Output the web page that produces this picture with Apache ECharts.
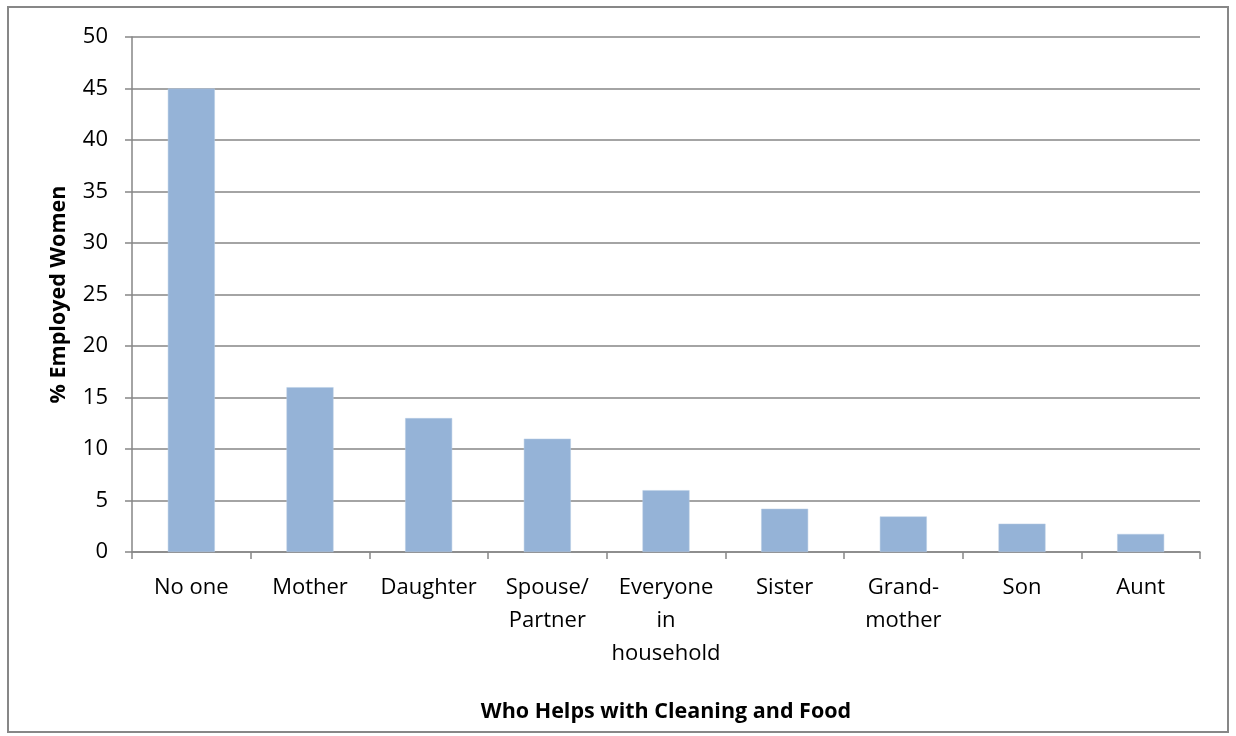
<!DOCTYPE html>
<html><head><meta charset="utf-8">
<script src="https://cdn.jsdelivr.net/npm/echarts@6/dist/echarts.min.js"></script>
<style>html,body{margin:0;padding:0;background:#fff}#c{width:1236px;height:736px}</style>
</head><body><div id="c"></div>
<script>
var categories = ["No one", "Mother", "Daughter", "Spouse/\nPartner", "Everyone\nin\nhousehold", "Sister", "Grand-\nmother", "Son", "Aunt"];
var values = [45, 16, 13, 11, 6, 4.2, 3.45, 2.75, 1.75];
var yTicks = [0, 5, 10, 15, 20, 25, 30, 35, 40, 45, 50];
var xTitle = "Who Helps with Cleaning and Food";
var yTitle = "% Employed Women";

var font = "'Open Sans', sans-serif";
var chart = echarts.init(document.getElementById('c'), null, {renderer: 'canvas'});
chart.setOption({
  animation: false,
  graphic: [{type: 'rect', shape: {x: 8, y: 7, width: 1220, height: 725}, style: {fill: 'none', stroke: '#878787', lineWidth: 2}, z: -1}],
  grid: {left: 132, right: 36, top: 37, bottom: 184},
  xAxis: {
    type: 'category', data: categories,
    name: xTitle, nameLocation: 'middle', nameGap: 149,
    nameTextStyle: {fontFamily: font, fontSize: 21.5, fontWeight: 'bold', color: '#000'},
    axisLine: {lineStyle: {color: '#868686', width: 1.5}},
    axisTick: {show: true, length: 7, lineStyle: {color: '#868686', width: 1.5}},
    axisLabel: {fontFamily: font, fontSize: 22, color: '#000', margin: 19, lineHeight: 33, interval: 0}
  },
  yAxis: {
    type: 'value', min: yTicks[0], max: yTicks[yTicks.length - 1], interval: 5,
    name: yTitle, nameLocation: 'middle', nameGap: 62,
    nameTextStyle: {fontFamily: font, fontSize: 21.5, fontWeight: 'bold', color: '#000'},
    axisLine: {show: true, lineStyle: {color: '#868686', width: 1.5}},
    axisTick: {show: true, length: 7, lineStyle: {color: '#868686', width: 1.5}},
    splitLine: {lineStyle: {color: '#868686', width: 1.5}},
    axisLabel: {fontFamily: font, fontSize: 22, color: '#000', margin: 24}
  },
  series: [{
    type: 'bar', data: values, barWidth: 47,
    itemStyle: {color: '#95B3D7', borderColor: '#b9cde5', borderWidth: 0.5}
  }]
});
</script></body></html>
